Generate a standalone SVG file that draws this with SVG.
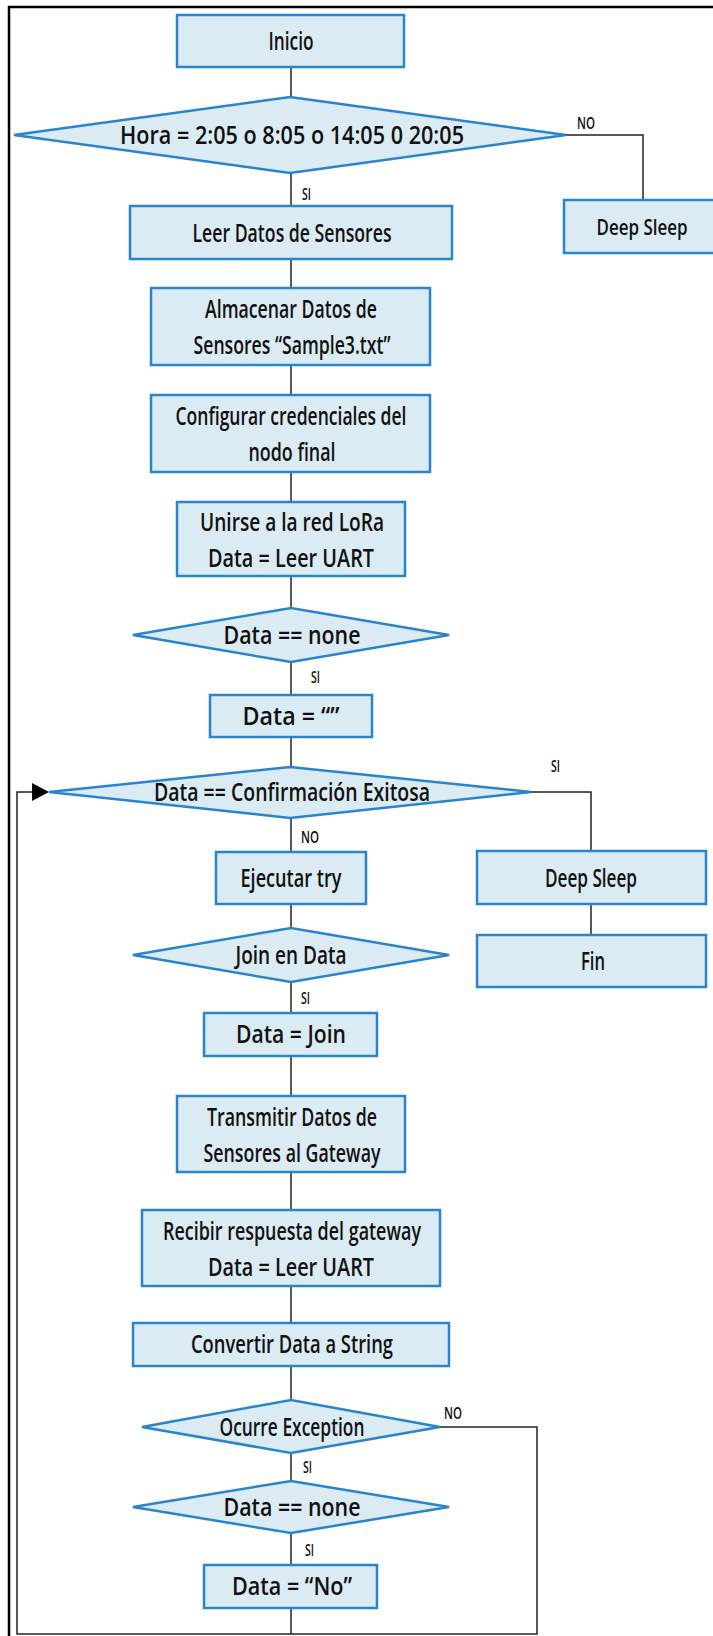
<svg xmlns="http://www.w3.org/2000/svg" width="713" height="1636" viewBox="0 0 713 1636">
<style>
.box{fill:#DBEBF3;stroke:#2A84CC;stroke-width:2.5}
.t{font-family:"Liberation Sans Narrow","Open Sans","Liberation Sans",sans-serif;font-size:25px;font-weight:600;fill:#111;text-anchor:middle}
.l{font-family:"Liberation Sans Narrow","Open Sans","Liberation Sans",sans-serif;font-size:16px;font-weight:600;fill:#111}
.c{fill:none;stroke:#222;stroke-width:1.5}
.frame{fill:none;stroke:#000;stroke-width:2.5}
</style>
<rect width="713" height="1636" fill="#fff"/>
<path class="frame" d="M9,1636 V7 H713"/>
<g id="connectors">
<path class="c" d="M291,67 V97"/>
<path class="c" d="M291,173 V206"/>
<path class="c" d="M566,135 H643 V200"/>
<path class="c" d="M291,259 V288"/>
<path class="c" d="M291,365 V395"/>
<path class="c" d="M291,472 V502"/>
<path class="c" d="M291,576 V608"/>
<path class="c" d="M291,662 V695"/>
<path class="c" d="M291,737 V767"/>
<path class="c" d="M531,792 H591 V851"/>
<path class="c" d="M591,904 V935"/>
<path class="c" d="M291,818 V852"/>
<path class="c" d="M291,904 V928"/>
<path class="c" d="M291,982 V1013"/>
<path class="c" d="M291,1056 V1096"/>
<path class="c" d="M291,1172 V1210"/>
<path class="c" d="M291,1286 V1323"/>
<path class="c" d="M291,1366 V1400"/>
<path class="c" d="M291,1453 V1481"/>
<path class="c" d="M291,1533 V1565"/>
<path class="c" d="M291,1608 V1634"/>
<path class="c" d="M440,1427 H537 V1634 H17 V792 H32"/>
<path d="M32,783 L49,792 L32,801 z" fill="#000"/>
<text class="l" x="577" y="129" textLength="18" lengthAdjust="spacingAndGlyphs">NO</text>
<text class="l" x="302" y="200" textLength="9" lengthAdjust="spacingAndGlyphs">SI</text>
<text class="l" x="311" y="683" textLength="9" lengthAdjust="spacingAndGlyphs">SI</text>
<text class="l" x="551" y="772" textLength="9" lengthAdjust="spacingAndGlyphs">SI</text>
<text class="l" x="301" y="843" textLength="18" lengthAdjust="spacingAndGlyphs">NO</text>
<text class="l" x="301" y="1004" textLength="9" lengthAdjust="spacingAndGlyphs">SI</text>
<text class="l" x="444" y="1419" textLength="18" lengthAdjust="spacingAndGlyphs">NO</text>
<text class="l" x="303" y="1473" textLength="9" lengthAdjust="spacingAndGlyphs">SI</text>
<text class="l" x="305" y="1556" textLength="9" lengthAdjust="spacingAndGlyphs">SI</text>
</g>
<g id="inicio"><rect class="box" x="177" y="15" width="227" height="52"/><text class="t" x="291" y="50" textLength="45" lengthAdjust="spacingAndGlyphs">Inicio</text></g>
<g id="hora"><polygon class="box" points="14,135 290,97 566,135 290,173"/><text class="t" x="292" y="144" textLength="344" lengthAdjust="spacingAndGlyphs">Hora = 2:05 o 8:05 o 14:05 0 20:05</text></g>
<g id="deepsleep1"><rect x="564" y="200" width="149" height="53" fill="#DBEBF3"/><path d="M713,200 H564 V253 H713" fill="none" stroke="#2A84CC" stroke-width="2.5"/><text class="t" x="642" y="235" style="font-size:22px" textLength="91" lengthAdjust="spacingAndGlyphs">Deep Sleep</text></g>
<g id="leer"><rect class="box" x="130" y="206" width="322" height="53"/><text class="t" x="292" y="242" textLength="199" lengthAdjust="spacingAndGlyphs">Leer Datos de Sensores</text></g>
<g id="almacenar"><rect class="box" x="151" y="288" width="279" height="77"/><text class="t" x="291" y="318" textLength="172" lengthAdjust="spacingAndGlyphs">Almacenar Datos de</text><text class="t" x="292" y="354" textLength="197" lengthAdjust="spacingAndGlyphs">Sensores “Sample3.txt”</text></g>
<g id="configurar"><rect class="box" x="151" y="395" width="279" height="77"/><text class="t" x="291" y="425" textLength="231" lengthAdjust="spacingAndGlyphs">Configurar credenciales del</text><text class="t" x="292" y="461" textLength="87" lengthAdjust="spacingAndGlyphs">nodo final</text></g>
<g id="unirse"><rect class="box" x="177" y="502" width="228" height="74"/><text class="t" x="292" y="531" textLength="184" lengthAdjust="spacingAndGlyphs">Unirse a la red LoRa</text><text class="t" x="291" y="567" textLength="166" lengthAdjust="spacingAndGlyphs">Data = Leer UART</text></g>
<g id="datanone1"><polygon class="box" points="133,635 291,608 449,635 291,662"/><text class="t" x="292" y="644" textLength="137" lengthAdjust="spacingAndGlyphs">Data == none</text></g>
<g id="dataempty"><rect class="box" x="210" y="695" width="162" height="42"/><text class="t" x="291" y="725" textLength="97" lengthAdjust="spacingAndGlyphs">Data = “”</text></g>
<g id="confirmacion"><polygon class="box" points="49,792 290,767 531,792 290,818"/><text class="t" x="292" y="801" textLength="276" lengthAdjust="spacingAndGlyphs">Data == Confirmación Exitosa</text></g>
<g id="ejecutar"><rect class="box" x="216" y="852" width="150" height="52"/><text class="t" x="291" y="887" textLength="101" lengthAdjust="spacingAndGlyphs">Ejecutar try</text></g>
<g id="deepsleep2"><rect class="box" x="477" y="851" width="229" height="53"/><text class="t" x="591" y="887" textLength="92" lengthAdjust="spacingAndGlyphs">Deep Sleep</text></g>
<g id="fin"><rect class="box" x="477" y="935" width="229" height="52"/><text class="t" x="593" y="970" textLength="24" lengthAdjust="spacingAndGlyphs">Fin</text></g>
<g id="join"><polygon class="box" points="133,955 291,928 449,955 291,982"/><text class="t" x="291" y="964" textLength="111" lengthAdjust="spacingAndGlyphs">Join en Data</text></g>
<g id="datajoin"><rect class="box" x="204" y="1013" width="173" height="43"/><text class="t" x="291" y="1043" textLength="110" lengthAdjust="spacingAndGlyphs">Data = Join</text></g>
<g id="transmitir"><rect class="box" x="177" y="1096" width="228" height="76"/><text class="t" x="292" y="1126" textLength="170" lengthAdjust="spacingAndGlyphs">Transmitir Datos de</text><text class="t" x="292" y="1162" textLength="177" lengthAdjust="spacingAndGlyphs">Sensores al Gateway</text></g>
<g id="recibir"><rect class="box" x="142" y="1210" width="298" height="76"/><text class="t" x="292" y="1240" textLength="258" lengthAdjust="spacingAndGlyphs">Recibir respuesta del gateway</text><text class="t" x="291" y="1276" textLength="166" lengthAdjust="spacingAndGlyphs">Data = Leer UART</text></g>
<g id="convertir"><rect class="box" x="133" y="1323" width="316" height="43"/><text class="t" x="292" y="1353" textLength="202" lengthAdjust="spacingAndGlyphs">Convertir Data a String</text></g>
<g id="ocurre"><polygon class="box" points="142,1427 291,1400 440,1427 291,1453"/><text class="t" x="292" y="1436" textLength="145" lengthAdjust="spacingAndGlyphs">Ocurre Exception</text></g>
<g id="datanone2"><polygon class="box" points="133,1507 291,1481 449,1507 291,1533"/><text class="t" x="292" y="1516" textLength="137" lengthAdjust="spacingAndGlyphs">Data == none</text></g>
<g id="datano"><rect class="box" x="204" y="1565" width="173" height="43"/><text class="t" x="292" y="1595" textLength="120" lengthAdjust="spacingAndGlyphs">Data = “No”</text></g>
</svg>
